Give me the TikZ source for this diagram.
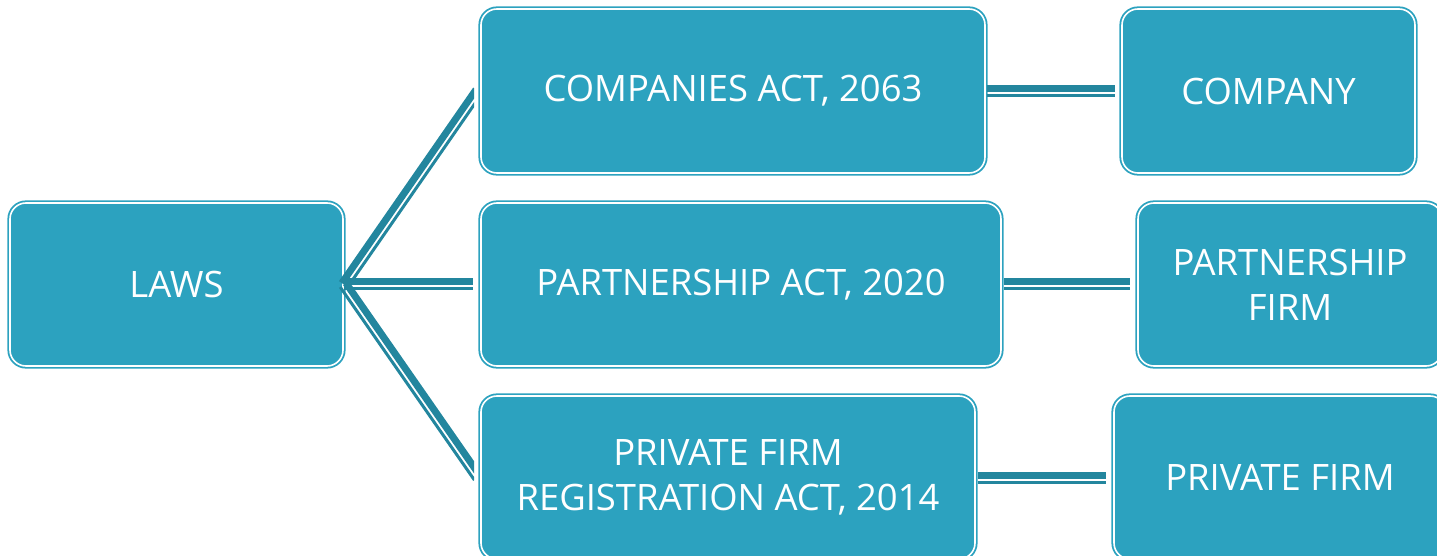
\documentclass[tikz,border=0pt]{standalone}
\usepackage{fontspec}
\setmainfont{Open Sans}
\usetikzlibrary{calc}
\definecolor{boxblue}{RGB}{44,162,191}
\definecolor{linkblue}{RGB}{35,134,158}
\tikzset{
  lawbox/.style={draw=boxblue,fill=boxblue,double=white,double distance=0.8pt,line width=0.9pt,
    rounded corners=8pt,text=white,align=center,inner sep=0pt,font=\fontsize{18.2}{22.5}\selectfont},
  thickpart/.style={draw=linkblue,line width=3.5pt},
  thinpart/.style={draw=linkblue,line width=1.5pt}
}
% thick-thin link between two points
\newcommand{\twinlink}[2]{%
  \draw[thickpart] ($(#1)!1.25pt!90:(#2)$) -- ($(#2)!1.25pt!-90:(#1)$);
  \draw[thinpart] ($(#1)!2.25pt!-90:(#2)$) -- ($(#2)!2.25pt!90:(#1)$);
}
\begin{document}
\begin{tikzpicture}[line join=round,x=0.5pt,y=-0.5pt]
\clip (0,0) rectangle (1437,556);
% boxes
\node[lawbox,minimum width=166.5pt,minimum height=81.5pt] (laws) at (176.5,284.5) {LAWS};
\node[lawbox,minimum width=252pt,minimum height=82pt] (ca) at (733,91) {COMPANIES ACT, 2063};
\node[lawbox,minimum width=260pt,minimum height=81.5pt] (pa) at (741,284.5) {PARTNERSHIP ACT, 2020};
\node[lawbox,minimum width=247pt,minimum height=81.5pt] (pfra) at (728,477.5) {PRIVATE FIRM\\REGISTRATION ACT, 2014};
\node[lawbox,minimum width=146.5pt,minimum height=82pt] (company) at (1268.5,91) {COMPANY};
\node[lawbox,minimum width=152pt,minimum height=81.5pt] (pfirm) at (1290,284.5) {PARTNERSHIP\\FIRM};
\node[lawbox,minimum width=166pt,minimum height=81.5pt] (pf) at (1280,477.5) {PRIVATE FIRM};
% link ends
\coordinate (caL) at ($(ca.west)+(-2,0)$);
\coordinate (paL) at ($(pa.west)+(-7,0)$);
\coordinate (pfraL) at ($(pfra.west)+(-2,0)$);
\coordinate (caR) at ($(ca.east)+(1,0)$);
\coordinate (paR) at ($(pa.east)+(2,0)$);
\coordinate (pfraR) at ($(pfra.east)+(2,0)$);
\coordinate (companyL) at ($(company.west)+(-6,0)$);
\coordinate (pfirmL) at ($(pfirm.west)+(-7,0)$);
\coordinate (pfL) at ($(pf.west)+(-7,0)$);
% links
\begin{scope}
\clip (0,0) rectangle (474,556);
\twinlink{laws.east}{caL}
\twinlink{laws.east}{paL}
\twinlink{laws.east}{pfraL}
\end{scope}
\twinlink{caR}{companyL}
\twinlink{paR}{pfirmL}
\twinlink{pfraR}{pfL}
\end{tikzpicture}
\end{document}
